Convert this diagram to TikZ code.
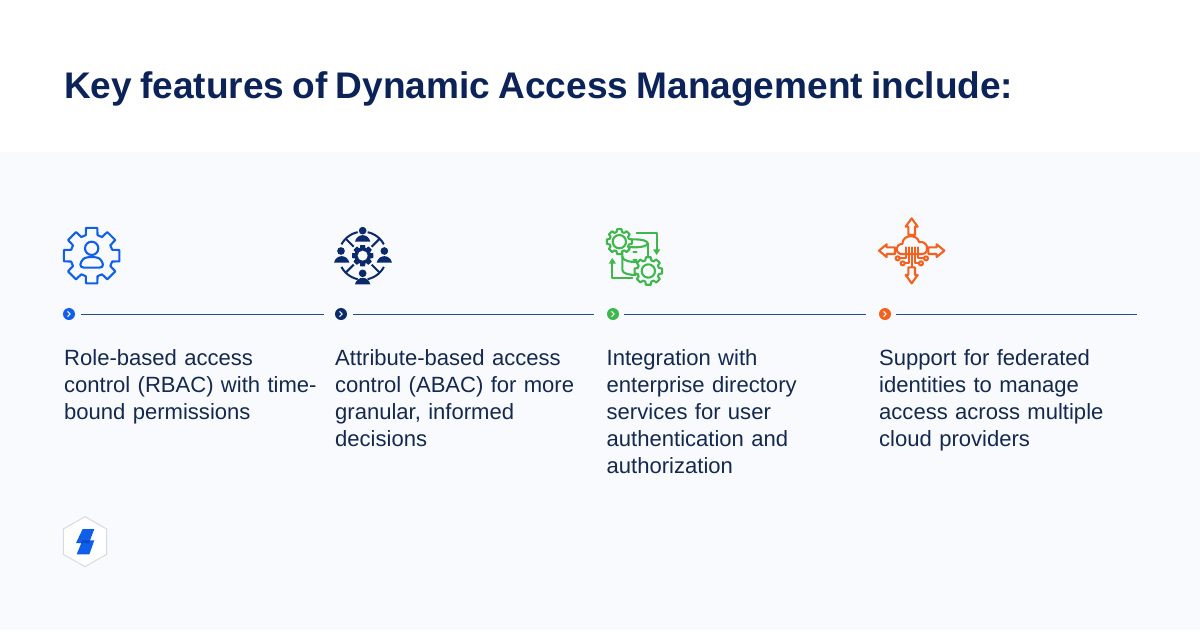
\documentclass[tikz,border=0pt]{standalone}
\usepackage{fontspec}
\setmainfont[WordSpace=0.8]{Liberation Sans}
\usetikzlibrary{arrows.meta}
\definecolor{panelbg}{HTML}{F9FAFE}
\definecolor{titlenavy}{HTML}{0B2358}
\definecolor{bodytext}{HTML}{13294F}
\definecolor{bluec}{HTML}{0F5FEB}
\definecolor{bluedark}{HTML}{0B4AC0}
\definecolor{navyc}{HTML}{0A2A6B}
\definecolor{greenc}{HTML}{3FB84B}
\definecolor{orangec}{HTML}{F4611E}
\definecolor{rulec}{HTML}{274B86}
\definecolor{hexc}{HTML}{D6DAE4}
\tikzset{
  titletext/.style={anchor=base west,inner sep=0pt,text=titlenavy,font=\fontsize{37.05}{37}\selectfont\bfseries},
  itemtext/.style={anchor=north west,inner sep=0pt,text=bodytext,align=left,text width=270pt,font=\fontsize{22.05}{27}\selectfont},
  bulletdot/.style={circle,inner sep=0pt,minimum size=12pt,fill=#1},
  rulestyle/.style={draw=rulec,line width=1pt},
  chev/.style={draw=white,line width=1.1pt,line cap=round,line join=round},
  iconstroke/.style={draw=#1,line width=2.1pt,line join=round,line cap=round,fill=none},
  zoomed/.style={x=0.33333pt,y=-0.33333pt},
}
\newcommand{\gearshape}[8]{%
  \pgfmathsetmacro{\gstep}{360/#5}
  \draw[#8,shift={(#1,#2)}] (90-#7:#4)
    \foreach \gi in {1,...,#5}{
      -- ({90+(\gi-1)*\gstep-#6}:#3) -- ({90+(\gi-1)*\gstep+#6}:#3)
      -- ({90+(\gi-1)*\gstep+#7}:#4) -- ({90+\gi*\gstep-#7}:#4)
    } -- cycle;
}
\newcommand{\persondome}[3]{%
  \fill[navyc] (#1-#3,#2) .. controls (#1-#3+6,#2-26) and (#1+#3-6,#2-26) .. (#1+#3,#2) -- cycle;
}
\begin{document}
\begin{tikzpicture}[x=1pt,y=-1pt]
\useasboundingbox (0,0) rectangle (1200,630);
\fill[white] (0,0) rectangle (1200,630);
\fill[panelbg] (0,152) rectangle (1200,630);

\node[titletext] (title) at (64,98.5) {Key features of Dynamic Access Management include:};

\node[bulletdot=bluec] (b1) at (69,314) {};
\node[bulletdot=navyc] (b2) at (341,314) {};
\node[bulletdot=greenc] (b3) at (613,314) {};
\node[bulletdot=orangec] (b4) at (885,314) {};
\foreach \n in {1,2,3,4}{
  \draw[chev] ([xshift=-1.2pt,yshift=-2.4pt]b\n.center) -- ([xshift=1.2pt]b\n.center) -- ([xshift=-1.2pt,yshift=2.4pt]b\n.center);
}
\coordinate (r1) at (324,314);
\coordinate (r2) at (594,314);
\coordinate (r3) at (866,314);
\coordinate (r4) at (1137,314);
\draw[rulestyle] ([xshift=12pt]b1.center) -- (r1);
\draw[rulestyle] ([xshift=12pt]b2.center) -- (r2);
\draw[rulestyle] ([xshift=11pt]b3.center) -- (r3);
\draw[rulestyle] ([xshift=11pt]b4.center) -- (r4);

\node[itemtext] (t1) at (64,349) {Role-based access\\control (RBAC) with time-\\bound permissions};
\node[itemtext] (t2) at (335,349) {Attribute-based access\\control (ABAC) for more\\granular, informed\\decisions};
\node[itemtext] (t3) at (606.5,349) {Integration with\\enterprise directory\\services for user\\authentication and\\authorization};
\node[itemtext] (t4) at (879,349) {Support for federated\\identities to manage\\access across multiple\\cloud providers};

% icon 1
\begin{scope}[shift={(50,215)},zoomed]
  \gearshape{125}{122}{85}{64}{8}{11.5}{16}{iconstroke=bluec}
  \draw[iconstroke=bluec] (125,100) circle (20);
  \draw[iconstroke=bluec] (102,158) .. controls (86,158) and (90,142) .. (100,132)
     .. controls (108,124) and (142,124) .. (150,132)
     .. controls (160,142) and (164,158) .. (148,158) -- cycle;
\end{scope}

% icon 2
\begin{scope}[shift={(325,215)},zoomed]
  \gearshape{113}{122}{31}{23}{8}{11}{17}{draw=navyc,fill=navyc,line width=1pt,line join=round}
  \fill[panelbg] (113,122) circle (15);
  \foreach \px/\py in {113/47,48/108,178/108,113/175}{ \fill[navyc] (\px,\py) circle (11.5); }
  \persondome{113}{80}{23}
  \persondome{50}{143}{23}
  \persondome{178}{143}{23}
  \persondome{113}{208}{23}
  \foreach \aa/\ab in {78/28,102/152,-28/-78,-102/-152}{
    \draw[draw=navyc,line width=2pt,shift={(113,122)}] plot[domain=\aa:\ab,samples=12,smooth] ({72*cos(\x)},{72*sin(\x)});
  }
  \foreach \aa in {45,135,225,315}{
    \draw[draw=navyc,line width=2pt,shift={(113,122)}] (\aa:38) -- (\aa:70);
  }
\end{scope}

% icon 3
\begin{scope}[shift={(595,215)},zoomed]
  \draw[iconstroke=greenc] (82,85) .. controls (82,69) and (158,69) .. (158,85)
     .. controls (158,101) and (82,101) .. (82,85);
  \draw[iconstroke=greenc] (158,85) -- (158,130);
  \draw[iconstroke=greenc] (82,85) -- (82,165) .. controls (82,176) and (105,180) .. (122,180);
  \draw[iconstroke=greenc] (82,125) .. controls (82,138) and (110,142) .. (130,141);
  \draw[iconstroke=greenc] (115,110) -- (125,110);
  \draw[iconstroke=greenc] (115,135) -- (125,135);
  \draw[iconstroke=greenc] (125,55) -- (185,55) -- (185,112);
  \fill[greenc] (174,103) -- (196,103) -- (185,120) -- cycle;
  \draw[iconstroke=greenc] (112,190) -- (52,190) -- (52,136);
  \fill[greenc] (41,146) -- (63,146) -- (52,129) -- cycle;
  \gearshape{73}{80}{38}{30}{8}{10}{16}{iconstroke=greenc,fill=panelbg}
  \draw[iconstroke=greenc] (73,80) circle (20);
  \gearshape{160}{168}{42}{33}{8}{10}{16}{iconstroke=greenc,fill=panelbg}
  \draw[iconstroke=greenc] (160,168) circle (20);
\end{scope}

% icon 4
\begin{scope}[shift={(865,210)},zoomed]
  \draw[iconstroke=orangec] (130,75) -- (130,50) -- (122,50) -- (140,25) -- (158,50) -- (150,50) -- (150,75) -- cycle;
  \draw[iconstroke=orangec] (130,172) -- (130,195) -- (122,195) -- (140,220) -- (158,195) -- (150,195) -- (150,172) -- cycle;
  \draw[iconstroke=orangec] (90,112) -- (65,112) -- (65,103) -- (42,122) -- (65,141) -- (65,132) -- (90,132) -- cycle;
  \draw[iconstroke=orangec] (190,112) -- (215,112) -- (215,103) -- (238,122) -- (215,141) -- (215,132) -- (190,132) -- cycle;
  \draw[iconstroke=orangec] (106,132) .. controls (90,128) and (90,102) .. (112,102)
    .. controls (112,72) and (158,72) .. (162,96)
    .. controls (190,92) and (195,128) .. (174,132) -- cycle;
  \foreach \vx in {122,131,140,149,158}{ \draw[iconstroke=orangec] (\vx,112) -- (\vx,135); }
  \draw[iconstroke=orangec] (140,135) -- (140,170);
  \draw[iconstroke=orangec] (122,135) -- (122,145) -- (104,145);
  \draw[iconstroke=orangec] (158,135) -- (158,145) -- (177,145);
  \draw[iconstroke=orangec] (98,145) circle (6);
  \draw[iconstroke=orangec] (183,145) circle (6);
  \draw[iconstroke=orangec] (113,160) circle (6);
  \draw[iconstroke=orangec] (168,160) circle (6);
  \draw[iconstroke=orangec] (119,160) -- (131,160) -- (131,135);
  \draw[iconstroke=orangec] (162,160) -- (149,160) -- (149,135);
\end{scope}

% logo
\begin{scope}[shift={(50,505)},zoomed]
  \draw[draw=hexc,line width=1pt,fill=white] (105,35) -- (170,72) -- (170,148) -- (105,185) -- (40,148) -- (40,72) -- cycle;
  \fill[bluec] (98,72) -- (133,72) -- (120,106) -- (133,106) -- (118,148) -- (80,148) -- (94,114) -- (78,114) -- cycle;
  \fill[bluedark] (97,106) -- (120,106) -- (117,114) -- (94,114) -- cycle;
\end{scope}
\end{tikzpicture}
\end{document}
